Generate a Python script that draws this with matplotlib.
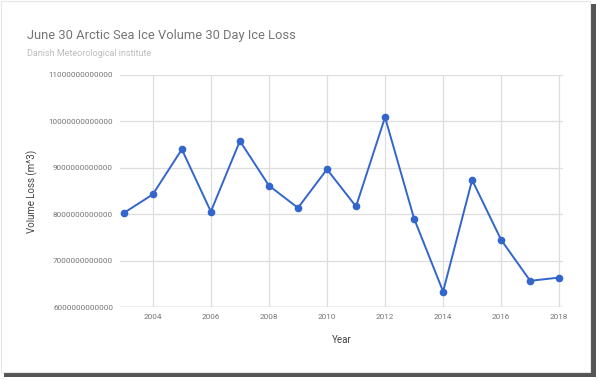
import matplotlib
matplotlib.use('Agg')
from matplotlib import pyplot as plt
from matplotlib import patches
from matplotlib.ticker import FuncFormatter

plt.rcParams['font.family'] = ['Roboto', 'DejaVu Sans']

# data
years = [2003, 2004, 2005, 2006, 2007, 2008, 2009, 2010,
         2011, 2012, 2013, 2014, 2015, 2016, 2017, 2018]
volume_loss = [8.03e12, 8.43e12, 9.40e12, 8.06e12, 9.58e12, 8.62e12, 8.14e12, 8.97e12,
               8.17e12, 10.09e12, 7.91e12, 6.34e12, 8.74e12, 7.45e12, 6.57e12, 6.64e12]
y_ticks = [6e12, 7e12, 8e12, 9e12, 10e12, 11e12]
x_ticks = [2004, 2006, 2008, 2010, 2012, 2014, 2016, 2018]

W, H = 598, 380
fig = plt.figure(figsize=(W / 100, H / 100), dpi=100)
fig.patch.set_facecolor('white')

# card with drop shadow
shadow = patches.Rectangle((4 / W, 1 - 377 / H), 592 / W, 373 / H, transform=fig.transFigure,
                           facecolor='#555555', edgecolor='none', zorder=0)
card = patches.Rectangle((1 / W, 1 - 372 / H), 589 / W, 371 / H, transform=fig.transFigure,
                         facecolor='white', edgecolor='#e6e6e6', linewidth=0.8, zorder=1)
fig.patches.extend([shadow, card])

ax = fig.add_axes([120 / W, 1 - 307.3 / H, 443 / W, 232.3 / H])
ax.set_facecolor('none')
ax.set_zorder(2)

ax.plot(years, volume_loss, color='#3366cc', linewidth=1.4, marker='o', markersize=4.5,
        clip_on=False, zorder=3)

ax.set_xlim(2002.87, 2018.13)
ax.set_ylim(6e12, 11e12)
ax.set_xticks(x_ticks)
ax.set_yticks(y_ticks)
ax.yaxis.set_major_formatter(FuncFormatter(lambda v, p: '%d' % round(v)))
ax.grid(True, color='#dddddd', linewidth=0.9)
ax.set_axisbelow(True)
for s in ax.spines.values():
    s.set_visible(False)
ax.axhline(6e12, color='#cccccc', linewidth=1.0, zorder=1)
ax.tick_params(length=0, labelsize=5.9, labelcolor='#757575', pad=5)

ax.set_xlabel('Year', fontsize=7, color='#444444')
ax.set_ylabel('Volume Loss (m^3)', fontsize=7, color='#444444')
ax.xaxis.set_label_coords(0.501, -0.141)
ax.yaxis.set_label_coords(-0.1986, 0.5)
ax.xaxis.label.set_va('center')
ax.yaxis.label.set_va('center')

fig.text(27 / W, 1 - 35 / H, 'June 30 Arctic Sea Ice Volume 30 Day Ice Loss', fontsize=9.3,
         color='#757575', va='center', ha='left')
fig.text(27 / W, 1 - 53 / H, 'Danish Meteorological institute', fontsize=6.5,
         color='#bdbdbd', va='center', ha='left')

fig.savefig('out.png', dpi=100)
